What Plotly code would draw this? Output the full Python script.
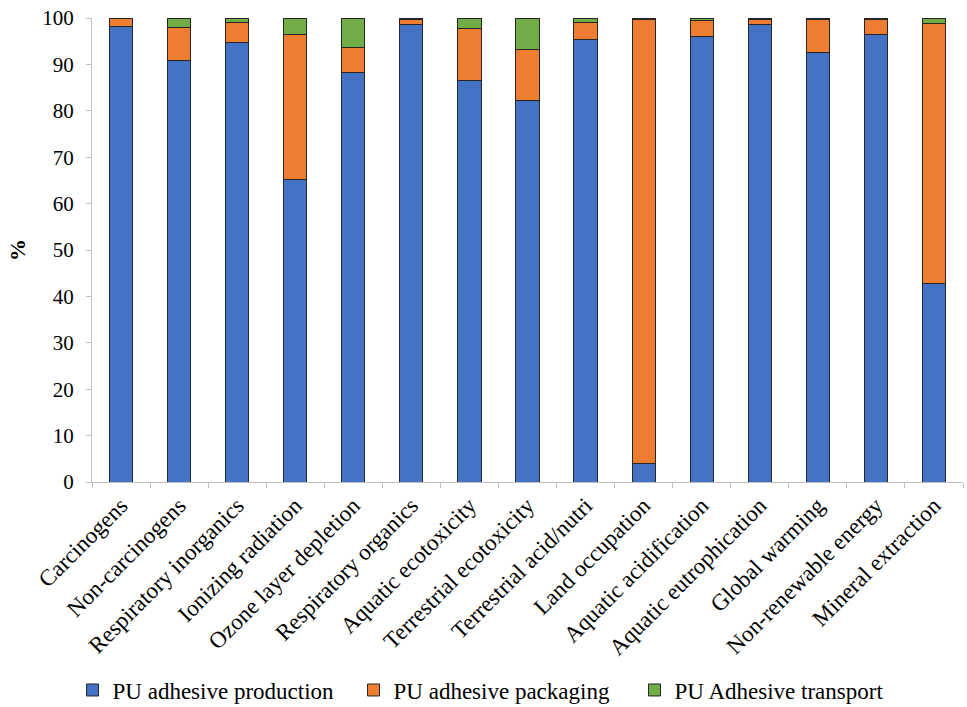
import plotly.graph_objects as go

categories = [
    "Carcinogens", "Non-carcinogens", "Respiratory inorganics", "Ionizing radiation",
    "Ozone layer depletion", "Respiratory organics", "Aquatic ecotoxicity",
    "Terrestrial ecotoxicity", "Terrestrial acid/nutri", "Land occupation",
    "Aquatic acidification", "Aquatic eutrophication", "Global warming",
    "Non-renewable energy", "Mineral extraction",
]

production = [98.1, 90.8, 94.8, 65.2, 88.3, 98.6, 86.6, 82.3, 95.3, 3.9, 96.1, 98.6, 92.5, 96.4, 42.8]
packaging = [1.7, 7.2, 4.3, 31.3, 5.4, 1.0, 11.2, 10.9, 3.8, 95.7, 3.3, 1.1, 7.1, 3.3, 56.1]
transport = [0.2, 2.0, 0.9, 3.5, 6.3, 0.4, 2.2, 6.8, 0.9, 0.4, 0.6, 0.3, 0.4, 0.3, 1.1]

series = [
    ("PU adhesive production", production, "#4472C4"),
    ("PU adhesive packaging", packaging, "#ED7D31"),
    ("PU Adhesive transport", transport, "#70AD47"),
]

font_family = "Liberation Serif, Times New Roman, serif"

fig = go.Figure()
for name, vals, color in series:
    fig.add_trace(go.Bar(
        x=categories, y=vals, name=name,
        marker=dict(color=color, line=dict(color="#262626", width=1)),
        width=0.4,
    ))

fig.update_layout(
    barmode="stack",
    width=967, height=707,
    margin=dict(l=92, r=4, t=18, b=225, autoexpand=False),
    plot_bgcolor="white", paper_bgcolor="white",
    font=dict(family=font_family, size=21, color="black"),
    showlegend=True,
    legend=dict(
        orientation="h", xref="container", x=0.075, xanchor="left",
        yref="container", y=0.024, yanchor="middle",
        font=dict(size=23), itemwidth=30, traceorder="normal",
        entrywidth=236, entrywidthmode="pixels",
    ),
    xaxis=dict(
        type="category", tickangle=-45, showline=True, linecolor="#bfbfbf", linewidth=1,
        ticks="outside", tickson="boundaries", ticklen=5, tickcolor="#bfbfbf",
        showgrid=False, tickfont=dict(size=23), automargin=False,
    ),
    yaxis=dict(
        range=[0, 100], dtick=10, showline=True, linecolor="#bfbfbf", linewidth=1,
        ticks="outside", ticklen=5, tickcolor="#bfbfbf", showgrid=False,
        tickfont=dict(size=21), automargin=False, ticklabelstandoff=8,
        title=dict(text="<b>%</b>", font=dict(size=22), standoff=10),
    ),
)

fig.write_html("out.html")
